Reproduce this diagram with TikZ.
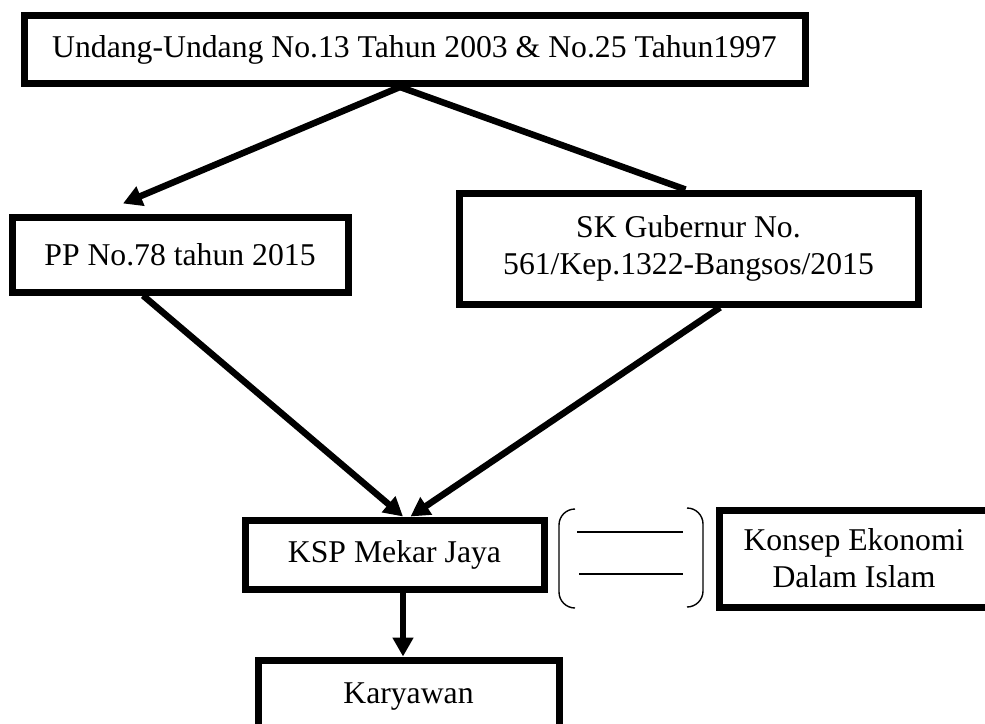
\documentclass[tikz,border=0pt]{standalone}
\usepackage{fontspec}
\setmainfont{Liberation Serif}
\usetikzlibrary{arrows.meta}
\begin{document}
\begin{tikzpicture}[x=1pt,y=1pt,
  box/.style={draw,line width=7pt,inner sep=0pt,align=center,
    font=\fontsize{31.7pt}{37pt}\selectfont},
  conn/.style={line width=6.5pt},
  arr/.style={conn,-{Triangle[length=19pt,width=20pt]}},
  thinline/.style={line width=1.4pt}]
\useasboundingbox (0,0) rectangle (985,-723);
\clip (0,0) rectangle (985,-723);
\fill[white] (0,0) rectangle (985,-723);

\node[box,minimum width=781pt,minimum height=68pt] (uu) at (414.5,-49.5)
  {Undang-Undang No.13 Tahun 2003 \& No.25 Tahun1997};
\node[box,minimum width=336pt,minimum height=75pt] (pp) at (180,-254.5)
  {PP No.78 tahun 2015};
\node[box,minimum width=459pt,minimum height=111pt] (sk) at (688.5,-248.5)
  {SK Gubernur No.\\561/Kep.1322-Bangsos/2015};
\node[box,minimum width=299pt,minimum height=69pt] (ksp) at (394.5,-554.5)
  {KSP Mekar Jaya};
\node[box,anchor=north,minimum width=301pt,text height=43pt,text depth=60pt] (kar) at (408.5,-656.5)
  {Karyawan};
\node[box,minimum width=290pt,minimum height=97pt] (kon) at (864,-558.5)
  {Konsep Ekonomi\rule{20pt}{0pt}\\Dalam Islam\rule{20pt}{0pt}};

\draw[arr] ([xshift=-14.5pt]uu.south) -- ([xshift=-57pt,yshift=10pt]pp.north);
\draw[conn] ([xshift=-14.5pt]uu.south) -- ([xshift=-3pt]sk.north);
\draw[arr] ([xshift=-37pt]pp.south) -- ([xshift=8.5pt]ksp.north);
\draw[arr] ([xshift=31.5pt]sk.south) -- ([xshift=16pt]ksp.north);
\draw[arr] ([xshift=8.5pt]ksp.south) -- ([xshift=-5.5pt]kar.north);

\draw[thinline,rounded corners=16pt] (575,-509) -- (559,-509) -- (559,-608) -- (575,-608);
\draw[thinline,rounded corners=16pt] (687,-508) -- (703,-508) -- (703,-607) -- (687,-607);
\draw[thinline] (577,-532) -- (683,-532);
\draw[thinline] (579,-574) -- (683,-574);
\end{tikzpicture}
\end{document}
